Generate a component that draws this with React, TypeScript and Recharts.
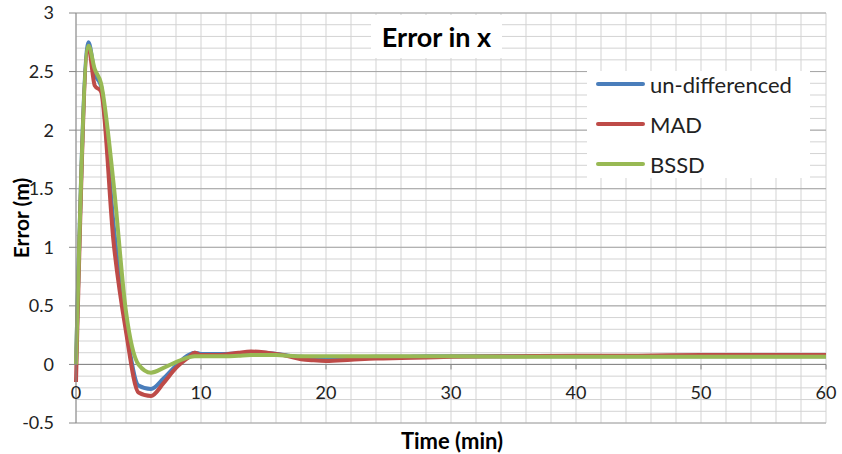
import { LineChart, Line, XAxis, YAxis, CartesianGrid, ReferenceLine } from 'recharts'

// time in minutes, one row per sample
const TIME = [0, 1, 1.5, 2, 3, 4, 5, 6, 7, 8, 9, 9.5, 10, 11, 12, 13, 14, 15, 16, 17, 18, 19, 20, 22, 24, 26, 28, 30, 35, 40, 45, 50, 55, 60]

const UNDIFF = [0, 2.75, 2.48, 2.38, 1.2, 0.32, -0.18, -0.21, -0.12, -0.01, 0.08, 0.1, 0.09, 0.09, 0.09, 0.095, 0.1, 0.1, 0.09, 0.075, 0.065, 0.06, 0.06, 0.06, 0.065, 0.065, 0.07, 0.07, 0.07, 0.07, 0.07, 0.07, 0.07, 0.07]
const MAD = [-0.15, 2.7, 2.38, 2.33, 1.05, 0.28, -0.24, -0.27, -0.16, -0.03, 0.06, 0.1, 0.08, 0.08, 0.085, 0.1, 0.11, 0.105, 0.09, 0.07, 0.045, 0.035, 0.03, 0.04, 0.05, 0.055, 0.06, 0.065, 0.07, 0.075, 0.075, 0.08, 0.08, 0.08]
const BSSD = [0, 2.72, 2.52, 2.4, 1.55, 0.45, 0.0, -0.07, -0.03, 0.02, 0.06, 0.07, 0.07, 0.07, 0.07, 0.075, 0.08, 0.08, 0.08, 0.075, 0.07, 0.07, 0.07, 0.07, 0.07, 0.07, 0.07, 0.07, 0.065, 0.065, 0.065, 0.065, 0.065, 0.065]

const X_TICKS = [0, 10, 20, 30, 40, 50, 60]
const Y_TICKS = [-0.5, 0, 0.5, 1, 1.5, 2, 2.5, 3]
const X_GRID = Array.from({ length: 31 }, (_, i) => i * 2)
const Y_MINOR = Array.from({ length: 36 }, (_, i) => Math.round((i * 0.1 - 0.5) * 10) / 10)

const SERIES = [
  { key: 'undiff', name: 'un-differenced', color: '#4a7ebb' },
  { key: 'mad', name: 'MAD', color: '#be4b48' },
  { key: 'bssd', name: 'BSSD', color: '#98b954' },
]

const FONT = 'Lato, "Liberation Sans", sans-serif'
const ZERO_ABOVE_BOTTOM = 410 * (0.5 / 3.5)

const data = TIME.map((t, i) => ({ t, undiff: UNDIFF[i], mad: MAD[i], bssd: BSSD[i] }))

function XTick({ x, y, payload }: any) {
  const y0 = y - ZERO_ABOVE_BOTTOM
  return (
    <g>
      {payload.value !== 0 && <line x1={x} x2={x} y1={y0} y2={y0 + 5} stroke="#868686" />}
      <text x={x} y={y - 24} textAnchor="middle" fontSize={18} fill="#222" fontFamily={FONT}>
        {payload.value}
      </text>
    </g>
  )
}

function LegendBox() {
  return (
    <div style={{ position: 'absolute', left: 587, top: 71, width: 223, height: 107, background: '#fff' }}>
      {SERIES.map((s) => (
        <div key={s.key} style={{ display: 'flex', alignItems: 'center', height: 40, marginTop: s.key === 'undiff' ? -7 : 0 }}>
          <div style={{ width: 49, height: 4, background: s.color, marginLeft: 9, borderRadius: 2 }} />
          <span style={{ marginLeft: 5, fontSize: 22, color: '#222' }}>{s.name}</span>
        </div>
      ))}
    </div>
  )
}

export default function App() {
  return (
    <div style={{ position: 'absolute', left: 0, top: 0, width: 842, height: 454, background: '#fff', fontFamily: FONT }}>
      <LineChart width={842} height={454} data={data} margin={{ top: 13, right: 16, left: 16, bottom: 0 }}>
        <CartesianGrid horizontalValues={Y_MINOR} verticalValues={X_GRID} stroke="#d3d3d3" />
        <CartesianGrid horizontalValues={Y_TICKS} vertical={false} stroke="#a6a6a6" />
        <XAxis
          dataKey="t"
          type="number"
          domain={[0, 60]}
          ticks={X_TICKS}
          axisLine={false}
          tickLine={false}
          tickSize={0}
          tickMargin={0}
          height={31}
          tick={<XTick />}
          interval={0}
        />
        <YAxis
          type="number"
          domain={[-0.5, 3]}
          ticks={Y_TICKS}
          width={60}
          interval={0}
          axisLine={{ stroke: '#868686' }}
          tickLine={{ stroke: '#868686' }}
          tickSize={7}
          tickMargin={15}
          tick={{ fontSize: 18, fill: '#222', fontFamily: FONT }}
        />
        <ReferenceLine y={0} stroke="#868686" />
        {SERIES.map((s) => (
          <Line
            key={s.key}
            dataKey={s.key}
            name={s.name}
            type="monotone"
            stroke={s.color}
            strokeWidth={4}
            dot={false}
            isAnimationActive={false}
          />
        ))}
      </LineChart>
      <LegendBox />
      <div
        style={{
          position: 'absolute', left: 371, top: 15, width: 131, height: 43, background: '#fff',
          display: 'flex', alignItems: 'center', justifyContent: 'center',
          fontSize: 27, fontWeight: 'bold', color: '#000',
        }}
      >
        Error in x
      </div>
      <div
        style={{
          position: 'absolute', left: 20, top: 218, transform: 'translate(-50%, -50%) rotate(-90deg)',
          fontSize: 21, fontWeight: 'bold', color: '#000', whiteSpace: 'nowrap',
        }}
      >
        Error (m)
      </div>
      <div
        style={{
          position: 'absolute', left: 452, top: 440, transform: 'translate(-50%, -50%)',
          fontSize: 22, fontWeight: 'bold', color: '#000', whiteSpace: 'nowrap',
        }}
      >
        Time (min)
      </div>
    </div>
  )
}
